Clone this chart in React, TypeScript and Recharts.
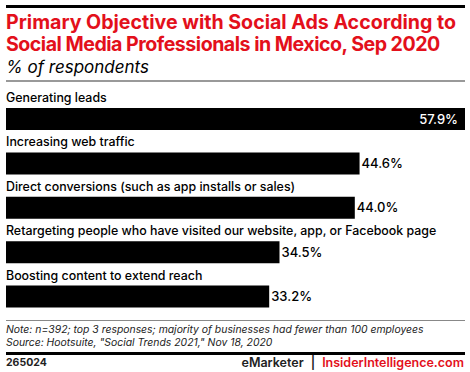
import React from 'react';
import { BarChart, Bar, XAxis, YAxis, LabelList } from 'recharts';

const categories = [
  'Generating leads',
  'Increasing web traffic',
  'Direct conversions (such as app installs or sales)',
  'Retargeting people who have visited our website, app, or Facebook page',
  'Boosting content to extend reach',
];
const values = [57.9, 44.6, 44.0, 34.5, 33.2];
const valueLabels = ['57.9%', '44.6%', '44.0%', '34.5%', '33.2%'];

const data = categories.map((name, i) => ({ name, value: values[i], label: valueLabels[i] }));
const maxValue = Math.max(...values);

const FONT = 'Inter, "Noto Sans", sans-serif';
const RED = '#e3101b';

const CategoryLabel = (props: any) => {
  const { x, y, value } = props;
  return (
    <text x={x} y={y - 6} fontSize={12.4} fontWeight={500} fill="#000" fontFamily={FONT}>
      {value}
    </text>
  );
};

const ValueLabel = (props: any) => {
  const { x, y, width, height, index } = props;
  const v = values[index];
  const inside = v === maxValue;
  return (
    <text
      x={inside ? x + width - 7 : x + width + 2}
      y={y + height / 2 + 4.5}
      fontSize={13}
      fontWeight={500}
      textAnchor={inside ? 'end' : 'start'}
      fill={inside ? '#fff' : '#000'}
      fontFamily={FONT}
    >
      {valueLabels[index]}
    </text>
  );
};

export default function App() {
  return (
    <div style={{ position: 'absolute', left: 0, top: 0, width: 470, height: 372, background: '#fff', fontFamily: FONT, overflow: 'hidden' }}>
      <div style={{ position: 'absolute', left: 6, top: 5, width: 459, height: 3, background: '#000' }} />
      <div style={{ position: 'absolute', left: 6, top: 11, width: 464, color: RED, fontSize: 19.6, fontWeight: 700, lineHeight: '22px', whiteSpace: 'nowrap' }}>
        <div>Primary Objective with Social Ads According to</div>
        <div style={{ letterSpacing: -0.5 }}>Social Media Professionals in Mexico, Sep 2020</div>
      </div>
      <div style={{ position: 'absolute', left: 6, top: 57, fontSize: 17, fontStyle: 'italic', color: '#000', lineHeight: '20px' }}>
        % of respondents
      </div>
      <div style={{ position: 'absolute', left: 6, top: 80, width: 459, height: 1.5, background: '#999' }} />

      <div style={{ position: 'absolute', left: 0, top: 0 }}>
        <BarChart
          width={470}
          height={372}
          data={data}
          layout="vertical"
          margin={{ top: 97, right: 5, bottom: 53, left: 6 }}
        >
          <XAxis type="number" domain={[0, maxValue]} hide />
          <YAxis type="category" dataKey="name" hide width={0} />
          <Bar dataKey="value" fill="#000" barSize={22} isAnimationActive={false}>
            <LabelList dataKey="name" content={CategoryLabel} />
            <LabelList dataKey="value" content={ValueLabel} />
          </Bar>
        </BarChart>
      </div>

      <div style={{ position: 'absolute', left: 6, top: 320, width: 459, height: 1, background: '#888' }} />
      <div style={{ position: 'absolute', left: 6, top: 323, fontSize: 10.4, fontStyle: 'italic', color: '#222', lineHeight: '13px', whiteSpace: 'nowrap' }}>
        Note: n=392; top 3 responses; majority of businesses had fewer than 100 employees<br />
        Source: Hootsuite, "Social Trends 2021," Nov 18, 2020
      </div>
      <div style={{ position: 'absolute', left: 6, top: 352, width: 459, height: 3, background: '#000' }} />
      <div style={{ position: 'absolute', left: 6, top: 357, fontSize: 10.5, fontWeight: 700, color: '#222', lineHeight: '12px' }}>
        265024
      </div>
      <div style={{ position: 'absolute', right: 6, top: 356, fontSize: 12.5, fontWeight: 600, lineHeight: '14px', whiteSpace: 'nowrap' }}>
        <span style={{ color: '#222' }}>eMarketer</span>
        <span style={{ color: '#222', margin: '0 7px' }}>|</span>
        <span style={{ color: RED }}>InsiderIntelligence.com</span>
      </div>
    </div>
  );
}
